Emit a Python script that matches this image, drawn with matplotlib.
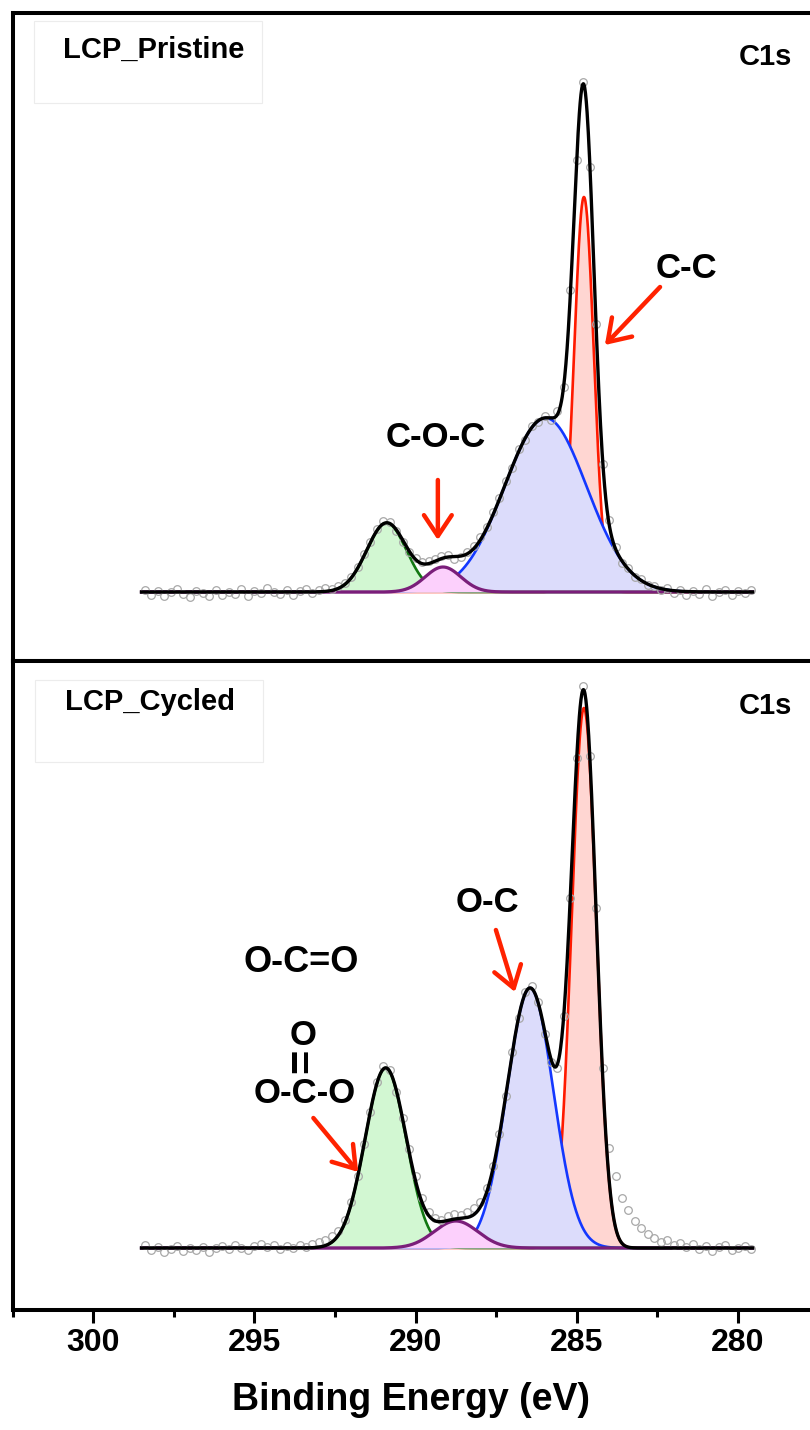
import numpy as np
import matplotlib
matplotlib.use("Agg")
import matplotlib.pyplot as plt
from matplotlib.patches import Rectangle
from matplotlib.ticker import MultipleLocator

plt.rcParams['font.family'] = ['Liberation Sans', 'DejaVu Sans']
plt.rcParams['font.weight'] = 'bold'

# ---------------- data ----------------
# binding-energy grid of the measured points (eV)
energy = np.round(np.arange(298.4, 279.5, -0.2), 1)

# measured C1s intensity above background (a.u.)
pristine_counts = [
    2, -3, 1, -4, 0, 3, -2, -5, 1, -1,
    -4, 2, -3, 0, -2, 3, -4, 1, -1, 4,
    0, -2, 2, -3, 1, 3, -1, 2, 4, 3,
    6, 9, 15, 25, 38, 50, 63, 71, 70, 61,
    50, 40, 34, 30, 31, 33, 36, 37, 33, 35,
    40, 46, 55, 65, 80, 94, 111, 124, 143, 152,
    166, 170, 176, 172, 181, 205, 302, 432, 510, 425,
    268, 128, 72, 45, 29, 24, 15, 13, 7, 6,
    2, 4, -1, 2, -3, 1, -2, 3, -4, 0,
    2, -3, 1, -1, 2]
cycled_counts = [
    3, -2, 1, -4, -1, 2, -3, 0, -2, 1,
    -4, 0, 2, -1, 3, 0, -2, 2, 4, 1,
    3, -1, 2, 0, 3, 1, 4, 6, 8, 12,
    17, 28, 46, 72, 104, 136, 166, 182, 178, 156,
    130, 99, 72, 50, 36, 30, 28, 32, 34, 33,
    36, 40, 46, 60, 82, 114, 152, 196, 230, 256,
    262, 246, 214, 186, 180, 232, 350, 490, 562, 492,
    340, 180, 100, 72, 50, 38, 27, 20, 14, 10,
    6, 8, 3, 5, 1, 4, -1, 2, -3, 1,
    3, -2, 0, 2, -1]

# fitted components: C-C, C-O, C-O-C, O-C=O
component_names = ['C-C', 'C-O', 'C-O-C', 'O-C=O']
pristine_center = [284.78, 285.97, 289.15, 290.90]
pristine_height = [395, 174, 25, 69]
pristine_fwhm = [0.72, 3.0, 1.3, 1.45]
cycled_center = [284.78, 286.45, 288.75, 290.93]
cycled_height = [540, 260, 27, 180]
cycled_fwhm = [0.9, 1.7, 1.6, 1.5]

fit_range = (298.5, 279.55)
x_ticks_major = [300, 295, 290, 285, 280]

line_colors = {'C-C': '#ff1a00', 'C-O': '#1438ff', 'C-O-C': '#7a1e7a', 'O-C=O': '#127812'}
fill_colors = {'C-C': '#ffd6d2', 'C-O': '#dcdcfb', 'C-O-C': '#fcd0fc', 'O-C=O': '#d2f7d2'}
draw_order = ['C-C', 'C-O', 'O-C=O', 'C-O-C']
ARROW_RED = '#ff2200'

W, H = 810, 1430
fig = plt.figure(figsize=(W / 100, H / 100), dpi=100)


def frac(l, t, r, b):
    return [l / W, 1 - b / H, (r - l) / W, (b - t) / H]


ax_top = fig.add_axes(frac(12.5, 12.5, 810, 661))
ax_bot = fig.add_axes(frac(12.5, 661, 810, 1310))


def gauss(x, c, h, f):
    s = f / (2 * np.sqrt(2 * np.log(2)))
    return h * np.exp(-0.5 * ((x - c) / s) ** 2)


def draw_panel(ax, counts, centers, heights, fwhms, ylim):
    xf = np.linspace(fit_range[0], fit_range[1], 1500)
    comps = {n: gauss(xf, c, h, f) for n, c, h, f in zip(component_names, centers, heights, fwhms)}
    for i, n in enumerate(draw_order):
        ax.fill_between(xf, 0, comps[n], color=fill_colors[n], lw=0, zorder=2 + i)
        ax.plot(xf, comps[n], color=line_colors[n], lw=1.9 if n != 'C-O-C' else 2.3, zorder=2.5 + i)
    ax.plot(energy, counts, 'o', ms=5.5, mfc='none', mec='#a8a8a8', mew=0.9, zorder=8)
    total = sum(comps.values())
    ax.plot(xf, total, color='black', lw=2.4, zorder=9)
    ax.set_xlim(302.5, 277.77)
    ax.set_ylim(*ylim)
    ax.set_yticks([])
    ax.xaxis.set_major_locator(MultipleLocator(5))
    ax.xaxis.set_minor_locator(MultipleLocator(2.5))
    ax.tick_params(axis='x', which='major', direction='out', length=9.5, width=2.2,
                   labelsize=23, pad=3.5)
    ax.tick_params(axis='x', which='minor', direction='out', length=5, width=2.2)
    for s in ['left', 'top', 'bottom']:
        ax.spines[s].set_linewidth(2.9)
        ax.spines[s].set_zorder(20)
    ax.spines['right'].set_visible(False)


draw_panel(ax_top, pristine_counts, pristine_center, pristine_height, pristine_fwhm, (-69, 579.5))
draw_panel(ax_bot, cycled_counts, cycled_center, cycled_height, cycled_fwhm, (-62, 587))
ax_top.tick_params(axis='x', labelbottom=False)
ax_bot.set_xticks(x_ticks_major)
ax_bot.set_xlabel('Binding Energy (eV)', fontsize=27, fontweight='bold', labelpad=17)

# labels / boxes
ax_top.add_patch(Rectangle((0.027, 0.8605), 0.286, 0.1264, transform=ax_top.transAxes,
                           fill=False, ec='#ececec', lw=0.8, zorder=1))
ax_top.text(0.0633, 0.930, 'LCP_Pristine', transform=ax_top.transAxes, fontsize=21,
            fontweight='bold', ha='left', va='baseline')
ax_top.text(0.9436, 0.919, 'C1s', transform=ax_top.transAxes, fontsize=21,
            fontweight='bold', ha='center', va='baseline')
ax_bot.add_patch(Rectangle((0.028, 0.8444), 0.286, 0.1263, transform=ax_bot.transAxes,
                           fill=False, ec='#ececec', lw=0.8, zorder=1))
ax_bot.text(0.0658, 0.9245, 'LCP_Cycled', transform=ax_bot.transAxes, fontsize=21,
            fontweight='bold', ha='left', va='baseline')
ax_bot.text(0.9436, 0.918, 'C1s', transform=ax_bot.transAxes, fontsize=21,
            fontweight='bold', ha='center', va='baseline')

arrow_style = dict(arrowstyle='->,head_length=0.75,head_width=0.5', color=ARROW_RED,
                   lw=3.2, mutation_scale=20, shrinkA=0, shrinkB=0)

# top annotations
ax_top.text(289.37, 145, 'C-O-C', fontsize=25, fontweight='bold', ha='center', va='baseline', zorder=12)
ax_top.annotate('', xy=(289.31, 52), xytext=(289.31, 112), arrowprops=arrow_style, zorder=12)
ax_top.text(281.59, 314, 'C-C', fontsize=25, fontweight='bold', ha='center', va='baseline', zorder=12)
ax_top.annotate('', xy=(284.13, 247), xytext=(282.42, 305), arrowprops=arrow_style, zorder=12)

# bottom annotations
ax_bot.text(293.55, 276, 'O-C=O', fontsize=26, fontweight='bold', ha='center', va='baseline', zorder=12)
ax_bot.text(293.49, 203, 'O', fontsize=25, fontweight='bold', ha='center', va='baseline', zorder=12)
ax_bot.text(293.49, 187, '=', fontsize=30, fontweight='bold', ha='center', va='center',
            rotation=90, zorder=12)
ax_bot.text(293.43, 145, 'O-C-O', fontsize=25, fontweight='bold', ha='center', va='baseline', zorder=12)
ax_bot.annotate('', xy=(291.78, 76), xytext=(293.17, 130), arrowprops=arrow_style, zorder=12)
ax_bot.text(287.76, 336, 'O-C', fontsize=25, fontweight='bold', ha='center', va='baseline', zorder=12)
ax_bot.annotate('', xy=(286.92, 256), xytext=(287.51, 318), arrowprops=arrow_style, zorder=12)

fig.savefig('out.png', dpi=100)
